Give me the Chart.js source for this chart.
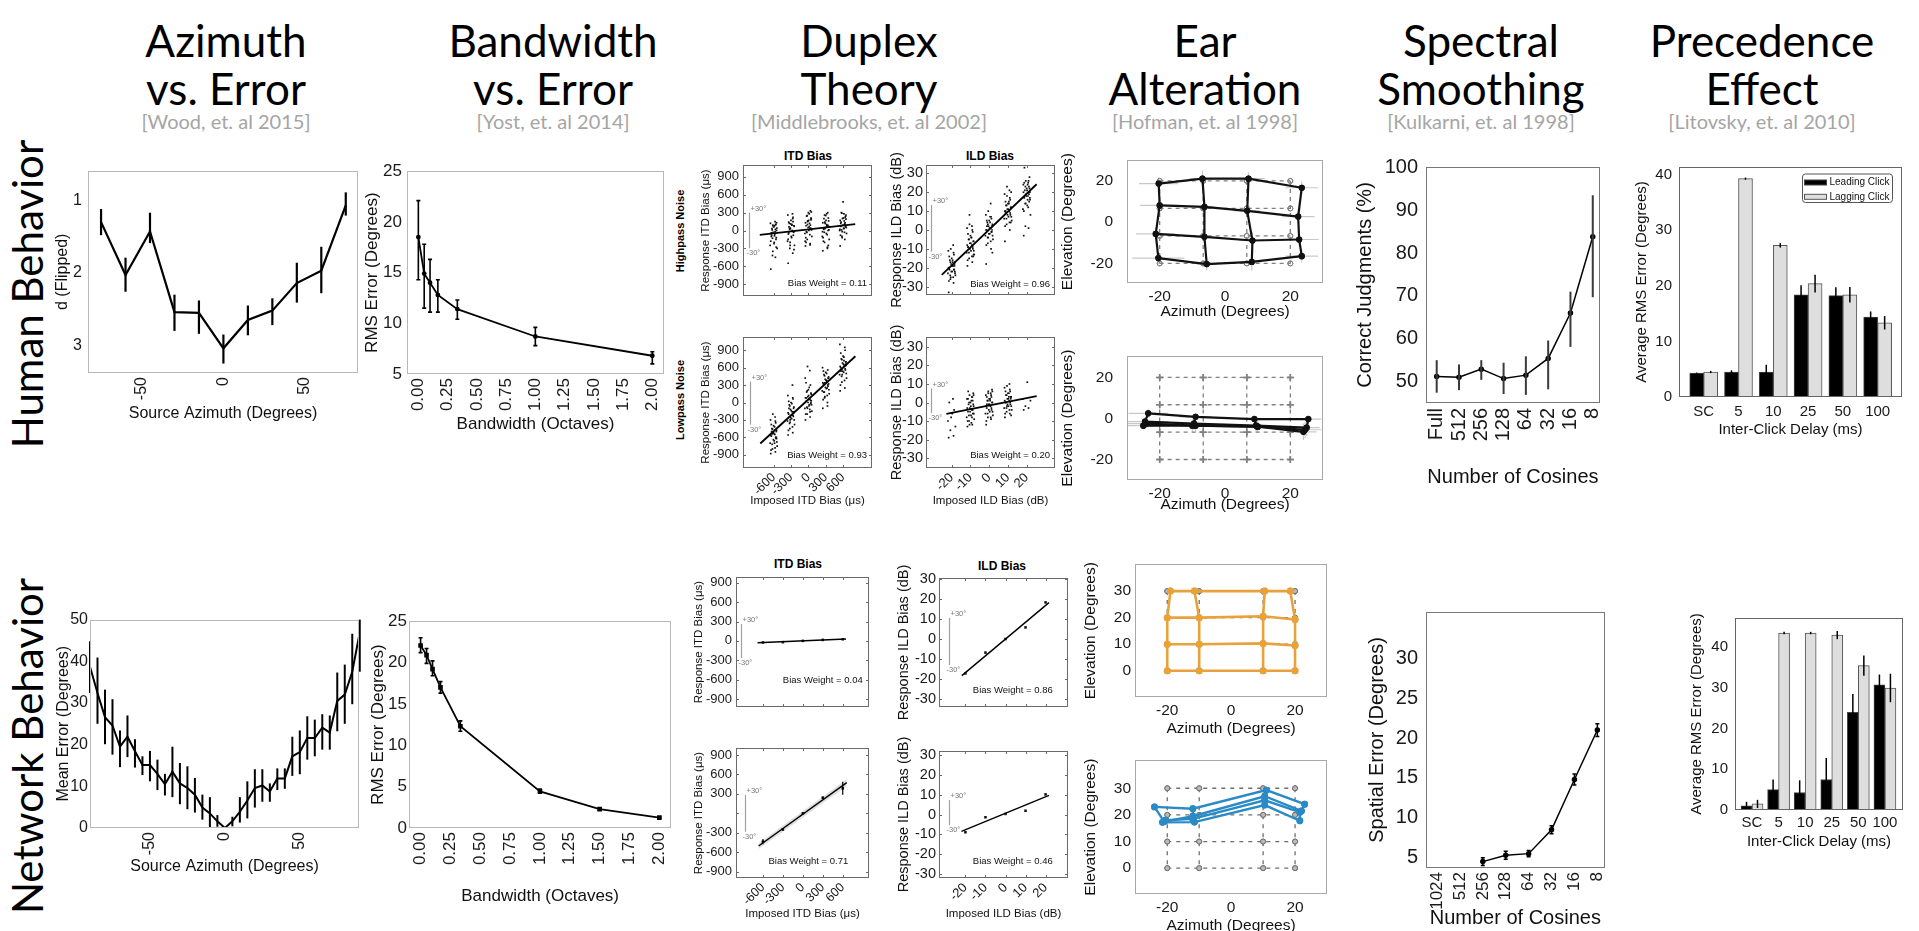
<!DOCTYPE html>
<html><head><meta charset="utf-8">
<script src="https://cdn.jsdelivr.net/npm/chart.js@4.4.1/dist/chart.umd.min.js"></script>
<style>
html,body{margin:0;padding:0;background:#fff;}
body{position:relative;width:1919px;height:931px;overflow:hidden;}
.t{position:absolute;font-family:Lato,"Open Sans",sans-serif;color:#000;text-align:center;white-space:nowrap;}
.h{font-size:44px;line-height:48px;width:400px;}
.c{font-size:20px;line-height:22px;color:#a5a5a5;width:400px;}
.row{font-size:42px;line-height:46px;width:400px;height:46px;transform:rotate(-90deg);transform-origin:center;}
.s{position:absolute;font-family:"Liberation Sans",Arial,sans-serif;font-weight:bold;white-space:nowrap;text-align:center;color:#000;width:120px;}
.sr{transform:rotate(-90deg);transform-origin:center;}
canvas{position:absolute;}
</style></head><body>
<div class="t row" style="left:-173px;top:271px;">Human Behavior</div>
<div class="t row" style="left:-173px;top:723px;">Network Behavior</div>

<div class="t h" style="left:26px;top:16px;">Azimuth<br>vs. Error</div>
<div class="t c" style="left:26px;top:110px;">[Wood, et. al 2015]</div>
<div class="t h" style="left:353px;top:16px;">Bandwidth<br>vs. Error</div>
<div class="t c" style="left:353px;top:110px;">[Yost, et. al 2014]</div>
<div class="t h" style="left:669px;top:16px;">Duplex<br>Theory</div>
<div class="t c" style="left:669px;top:110px;">[Middlebrooks, et. al 2002]</div>
<div class="t h" style="left:1005px;top:16px;">Ear<br>Alteration</div>
<div class="t c" style="left:1005px;top:110px;">[Hofman, et. al 1998]</div>
<div class="t h" style="left:1281px;top:16px;">Spectral<br>Smoothing</div>
<div class="t c" style="left:1281px;top:110px;">[Kulkarni, et. al 1998]</div>
<div class="t h" style="left:1562px;top:16px;">Precedence<br>Effect</div>
<div class="t c" style="left:1562px;top:110px;">[Litovsky, et. al 2010]</div>

<div class="s" style="left:748px;top:149px;font-size:12px;">ITD Bias</div>
<div class="s" style="left:930px;top:149px;font-size:12px;">ILD Bias</div>
<div class="s sr" style="left:620px;top:225px;font-size:11px;">Highpass Noise</div>
<div class="s sr" style="left:620px;top:394px;font-size:11px;">Lowpass Noise</div>
<div class="s" style="left:738px;top:557px;font-size:12px;">ITD Bias</div>
<div class="s" style="left:942px;top:559px;font-size:12px;">ILD Bias</div>

<script>
// ---------------- DATA ----------------
// Azimuth vs Error (human)
const H_AZ_X = [-75,-60,-45,-30,-15,0,15,30,45,60,75];
const H_AZ_D = [1.30,2.03,1.43,2.54,2.55,3.04,2.65,2.52,2.14,1.97,1.07];
const H_AZ_LO = [1.12,1.79,1.17,2.30,2.38,2.85,2.45,2.35,1.86,1.64,0.89];
const H_AZ_HI = [1.48,2.26,1.59,2.80,2.84,3.25,2.86,2.72,2.41,2.28,1.21];
const H_AZ_YTICKS = [1,2,3];
const AZ_XTICKS = [-50,0,50];
// Azimuth vs Error (network)
const N_AZ_X = [-90,-85,-80,-75,-70,-65,-60,-55,-50,-45,-40,-35,-30,-25,-20,-15,-10,-5,0,5,10,15,20,25,30,35,40,45,50,55,60,65,70,75,80,85,90];
const N_AZ_Y = [38.7,32.4,26.6,24.6,19.5,21.9,18.4,15.1,15.1,13.0,10.5,13.5,10.7,9.6,8.0,4.9,3.5,1.6,0,1.6,3.9,6.6,9.6,10.2,8.75,11.9,11.9,17.2,18.2,21.6,21.6,24.1,22.9,30.5,32.0,37.5,46.9];
const N_AZ_LO = [32.4,25,20.1,17.6,14.6,17,14.5,12.7,11.2,9.1,7.8,7.4,5.7,4.5,3.7,2,0,0.3,null,0.4,1.3,2.3,4.9,6.3,6.3,9.1,9.4,12.5,12.9,16.4,17.2,18.8,18.8,23.2,25,29.7,37.5];
const N_AZ_HI = [44.8,40.9,33.2,30.9,23.4,27,21.3,17.2,18.5,16.4,13.0,19.5,15.6,14.8,12,8,7.4,3.1,null,2.7,7.4,11.2,14.1,14.1,10.7,14.3,14.3,21.9,23.4,26.8,26,27.3,27,37.3,39.2,46.6,50];
const N_AZ_YTICKS = [0,10,20,30,40,50];
// Bandwidth vs Error
const H_BW_X = [0,0.05,0.1,0.1667,0.3333,1,2];
const H_BW_Y = [18.5,14.9,14.0,12.8,11.4,8.7,6.8];
const H_BW_LO = [14.3,11.5,11.1,11.1,10.4,7.8,6.0];
const H_BW_HI = [22.1,17.8,16.3,14.3,12.3,9.6,7.2];
const N_BW_X = [0,0.05,0.1,0.1667,0.3333,1,1.5,2];
const N_BW_Y = [22.06,20.9,19.2,17.0,12.3,4.43,2.28,1.26];
const N_BW_LO = [21.2,19.9,18.4,16.3,11.7,4.2,2.15,1.15];
const N_BW_HI = [23.0,21.7,20.2,17.7,12.95,4.7,2.4,1.35];
const BW_XTICKS = [0,0.25,0.5,0.75,1,1.25,1.5,1.75,2];
const H_BW_YTICKS = [5,10,15,20,25];
const N_BW_YTICKS = [0,5,10,15,20,25];
// Duplex theory (human) scatter columns
const ITD_COLS = [-600,-300,0,300,600];
const ILD_COLS = [-20,-10,0,10,20];
const JIT_US = [-50,30,-20,60,-60,10,40,-40,20,-10,50,-30,0,35,-55,25,-15,45,-35,15,-45,25,-25,55,-5,35,-50,5,45,-20,15,-40,30,-15,50];
const JIT_DB = [-1.6,1,-0.7,2,-2,0.3,1.3,-1.3,0.7,-0.3,1.7,-1,0,1.2,-1.8,0.8,-0.5,1.5,-1.2,0.5,-1.5,0.8,-0.8,1.8,-0.2,1.2,-1.7,0.2,1.5,-0.7,0.5,-1.3,1,-0.5,1.7];
const H_ITD_HP = [
 [-650,-450,-420,-300,-250,-200,-150,-100,-60,-30,0,30,60,100,120,150,-350,-120,-80,80,-50,-20,10,40,70,100,-180,-220,-280,-130,-90,-40,20,90,130],
 [-550,-380,-300,-250,-180,-120,-80,-40,0,40,80,120,170,220,260,280,-200,-20,60,100,-60,-10,30,70,110,150,-150,-100,-30,20,90,140,200,-250,-320],
 [-260,-220,-150,-100,-50,0,40,80,120,160,200,240,300,330,-180,20,100,180,-20,60,-120,-70,-30,10,50,90,130,170,210,250,280,-200,-240,150,310],
 [-340,-280,-200,-150,-100,-50,0,40,80,120,160,200,250,300,-20,60,140,-250,20,100,-120,-70,-30,10,50,90,130,170,210,260,280,-180,-300,30,70],
 [-260,-150,-100,-50,0,40,80,120,160,200,260,300,480,220,20,100,-20,60,140,280,-80,-30,10,50,90,130,170,210,240,290,30,70,110,-120,190]];
const H_ILD_HP = [
 [-33,-28,-26,-24,-23,-22,-21,-20,-19,-18,-17,-16,-15,-13,-11,-8,-25,-19,-21,-17,-27,-25,-24,-23,-22,-21,-20,-19,-18,-17,-16,-14,-12,-10,-22],
 [-19,-17,-15,-13,-12,-11,-10,-9,-8,-7,-6,-5,-3,-1,1,2,8,-14,-9,-4,-16,-14,-12,-11,-10,-9,-8,-7,-6,-5,-4,-2,0,3,-13],
 [-18,-10,-7,-5,-3,-2,-1,0,1,2,3,4,5,6,8,14,-4,0,2,7,-8,-6,-4,-3,-2,-1,0,1,2,3,4,5,7,10,-12],
 [-6,0,3,5,6,7,8,9,10,11,12,13,14,16,19,21,23,4,10,15,2,4,6,7,8,9,10,11,12,13,14,15,17,18,20],
 [-3,1,2,8,11,13,15,17,18,19,20,21,22,23,24,25,26,28,33,16,10,12,14,16,18,19,20,21,22,23,24,25,26,14,17]];
const H_ITD_LP = [
 [-880,-850,-800,-750,-700,-660,-620,-580,-550,-520,-480,-450,-400,-350,-300,-250,-200,-600,-500,-700,-820,-780,-720,-680,-640,-600,-560,-530,-500,-460,-420,-380,-320,-540,-620],
 [-560,-520,-450,-380,-320,-280,-240,-200,-160,-120,-80,-40,0,60,120,300,-300,-180,-100,-220,-480,-420,-360,-300,-260,-220,-180,-140,-100,-60,-20,20,80,-340,-160],
 [-300,-250,-200,-150,-100,-60,-20,20,60,100,140,180,220,300,420,550,620,0,80,-40,-200,-120,-80,-40,0,40,80,120,160,200,260,340,-160,-100,30],
 [-100,0,80,150,200,240,280,320,360,400,440,480,520,560,600,250,340,420,180,380,50,120,180,220,260,300,340,380,420,460,500,540,-60,100,320],
 [200,250,350,420,480,520,560,600,640,680,700,750,800,900,1000,620,580,660,540,720,300,380,450,500,540,580,620,660,700,740,780,850,950,480,640]];
const H_ILD_LP = [
 [-19,-18,-15,-13,-10,-6,-4,0,2,-8],
 [-13,-12,-10,-9,-8,-7,-6,-5,-4,-3,-2,-1,0,1,2,3,4,5,6,-11,-10,-8,-7,-6,-5,-4,-3,-2,-1,0,1,2,3,-12,4],
 [-12,-9,-8,-7,-6,-5,-4,-3,-2,-1,0,1,2,3,4,5,6,7,-1,1,-10,-8,-6,-5,-4,-3,-2,-1,0,1,2,3,4,5,6],
 [-8,-6,-5,-4,-3,-2,-1,0,1,2,3,4,5,6,8,10,-2,2,0,3,-6,-4,-3,-2,-1,0,1,2,3,4,5,6,7,9,-7],
 [-4,-3,-2,1,2,11]];
const H_ITD_HP_FIT = [[-840,-73],[810,107]];
const H_ILD_HP_FIT = [[-25.3,-23.8],[25.3,24.2]];
const H_ITD_LP_FIT = [[-831,-706],[813,797]];
const H_ILD_LP_FIT = [[-22.8,-6.2],[25.3,3.4]];
// Duplex theory (network)
const N_ITD_HP = [-25,-20,0,15,25];
const N_ILD_HP = [-17.2,-6.8,0,5.8,18.3];
const N_ITD_LP = [-437,-247,0,242,386];
const N_ITD_LP_ERR = [40,20,10,15,100];
const N_ILD_LP = [-9.0,-1.4,0.3,1.9,10.2];
const N_ITD_HP_FIT = [[-681,-30],[650,30]];
const N_ILD_HP_FIT = [[-21.8,-18.3],[21.7,18.2]];
const N_ITD_LP_FIT = [[-665,-504],[660,473]];
const N_ITD_LP_BAND = [[-665,-460],[660,530]];
const N_ILD_LP_FIT = [[-22,-8.6],[21.7,9.7]];
const ITD_TICKS = [-900,-600,-300,0,300,600,900];
const ILD_TICKS = [-30,-20,-10,0,10,20,30];
// Ear alteration
const H_EAR_T_AZ = [-20,-6.67,6.67,20];
const H_EAR_T_EL = [20,6.67,-6.67,-20];
const H_EAR1_AZ = [[-20.3,-6.9,7.2,23.5],[-20,-6.3,6.8,22.4],[-21.2,-6.3,8.4,22.7],[-20.4,-5.6,8.2,23.5]];
const H_EAR1_EL = [[18.7,21.1,21.1,16.7],[8.1,7.4,5.5,2.7],[-5.7,-7.1,-8.9,-8.4],[-17.4,-20.3,-19.3,-16.5]];
const H_EAR1_AZ_SD = [[6,4,5,5],[6,3,4,5],[6,3,4,6],[8,3,3,5]];
const H_EAR1_EL_SD = [[3,4,3,3],[3,3,3,3],[3,3,4,3],[3,3,4,3]];
const H_EAR2_AZ = [[-23.5,-9,9,25.5],[-24.5,-9.5,9.5,25],[-24,-9,10,24.5],[-25,-10,10,24]];
const H_EAR2_EL = [[2.5,0.8,-0.3,-0.3],[-1.5,-2.5,-3.5,-4.5],[-2.5,-3.5,-4,-5.5],[-3.5,-3.5,-4,-6.5]];
const H_EAR2_AZ_SD = [[6,5,5,4],[7,5,5,4],[7,6,6,5],[8,6,5,4]];
const H_EAR2_EL_SD = [[2,2,2,2],[2,3,3,4],[2,3,3,4],[2,3,3,4]];
const N_EAR_T_AZ = [-20,-10,10,20];
const N_EAR_T_EL = [30,20,10,0];
const N_EAR1_AZ = [[-19,-11.5,10.5,18.5],[-20,-10,10,20],[-20,-10,10,20],[-20,-10,10,20]];
const N_EAR1_EL = [[30,30,30,30],[20,20,20.5,19.3],[10,10,10.3,9.5],[0,0,0,0]];
const N_EAR2_AZ = [[-24,-12,11,23],[-21,-12,10.5,22],[-20.5,-12,10.5,21.5],[-21.5,-11.5,10.5,21.5]];
const N_EAR2_EL = [[23,22.3,29.3,24],[17.5,19.5,27,21.5],[18,18.5,25.5,21],[17.2,17.3,23.7,17.8]];
const EAR_XTICKS = [-20,0,20];
const H_EAR_YTICKS = [-20,0,20];
const N_EAR_YTICKS = [0,10,20,30];
// Spectral smoothing
const H_SS_LABELS = ['Full','512','256','128','64','32','16','8'];
const H_SS_Y = [51.2,51.0,52.9,50.7,51.5,55.4,66.0,83.8];
const H_SS_LO = [47.4,48.0,50.4,47.1,46.9,48.2,58.1,69.7];
const H_SS_HI = [55.0,54.0,55.0,54.4,55.9,59.6,71.0,93.5];
const N_SS_LABELS = ['1024','512','256','128','64','32','16','8'];
const N_SS_Y = [null,null,4.5,5.3,5.5,8.5,14.8,21.0];
const N_SS_LO = [null,null,4.0,4.8,5.1,8.0,14.1,20.2];
const N_SS_HI = [null,null,5.0,5.8,5.9,9.0,15.5,21.8];
const SS_XTICKS = [0,1,2,3,4,5,6,7];
const H_SS_YTICKS = [50,60,70,80,90,100];
const N_SS_YTICKS = [5,10,15,20,25,30];
// Precedence effect
const PE_CATS = ['SC','5','10','25','50','100'];
const PE_XTICKS = [0,1,2,3,4,5];
const H_PE_LEAD = [4.3,4.5,4.5,18.4,18.25,14.4];
const H_PE_LEAD_ERR = [0.1,0.3,1.3,1.7,1.5,1.0];
const H_PE_LAG = [4.5,39.3,27.3,20.4,18.4,13.35];
const H_PE_LAG_ERR = [0.2,0.2,0.4,1.6,1.4,1.2];
const N_PE_LEAD = [1.0,5.0,4.3,7.5,24.0,30.8];
const N_PE_LEAD_ERR = [1.0,2.5,3.0,5.3,4.5,2.5];
const N_PE_LAG = [1.5,43.5,43.5,43.0,35.5,30.0];
const N_PE_LAG_ERR = [1.0,0.3,0.3,1.0,2.5,3.5];
const PE_YTICKS = [0,10,20,30,40];

// ---------------- HELPERS ----------------
const FONT = '"Liberation Sans", Arial, Helvetica, sans-serif';

const decoPlugin = {
  id: 'deco',
  beforeDatasetsDraw(ch, args, o) {
    if (!o.cross) return;
    const ctx = ch.ctx, a = ch.chartArea, xs = ch.scales.x, ys = ch.scales.y, C = o.cross;
    ctx.save();
    ctx.beginPath(); ctx.rect(a.left, a.top, a.width, a.height); ctx.clip();
    ctx.strokeStyle = '#c9c9c9'; ctx.lineWidth = 1.2; ctx.beginPath();
    C.az.forEach((row, r) => row.forEach((x, c) => {
      const y = C.el[r][c], sx = C.sdx[r][c], sy = C.sdy[r][c];
      const px = xs.getPixelForValue(x), py = ys.getPixelForValue(y);
      ctx.moveTo(xs.getPixelForValue(x - sx), py); ctx.lineTo(xs.getPixelForValue(x + sx), py);
      ctx.moveTo(px, ys.getPixelForValue(y - sy)); ctx.lineTo(px, ys.getPixelForValue(y + sy));
    }));
    ctx.stroke(); ctx.restore();
  },
  afterDatasetsDraw(ch, args, o) {
    const ctx = ch.ctx, a = ch.chartArea, xs = ch.scales.x, ys = ch.scales.y;
    ctx.save();
    ch.data.datasets.forEach((ds, di) => {
      if (!ds.errLo) return;
      const meta = ch.getDatasetMeta(di);
      ctx.strokeStyle = ds.errColor || '#000';
      ctx.lineWidth = ds.errWidth || 1.5;
      meta.data.forEach((el, i) => {
        const lo = ds.errLo[i], hi = ds.errHi[i];
        if (lo == null || hi == null) return;
        const x = el.x, y1 = ys.getPixelForValue(lo), y2 = ys.getPixelForValue(hi);
        ctx.beginPath(); ctx.moveTo(x, y1); ctx.lineTo(x, y2);
        const cp = ds.errCap || 0;
        if (cp) { ctx.moveTo(x-cp, y1); ctx.lineTo(x+cp, y1); ctx.moveTo(x-cp, y2); ctx.lineTo(x+cp, y2); }
        ctx.stroke();
      });
    });
    if (o.frame) {
      ctx.strokeStyle = o.frame; ctx.lineWidth = o.frameW || 1;
      ctx.strokeRect(Math.round(a.left)+0.5, Math.round(a.top)+0.5, Math.round(a.width)-1, Math.round(a.height)-1);
    }
    if (o.tickIn) {
      ctx.strokeStyle = o.frame || '#555'; ctx.lineWidth = 1;
      const L = o.tickIn;
      ctx.beginPath();
      xs.ticks.forEach(t => { const p = Math.round(xs.getPixelForValue(t.value))+0.5;
        ctx.moveTo(p, a.bottom); ctx.lineTo(p, a.bottom-L); ctx.moveTo(p, a.top); ctx.lineTo(p, a.top+L); });
      ys.ticks.forEach(t => { const p = Math.round(ys.getPixelForValue(t.value))+0.5;
        ctx.moveTo(a.left, p); ctx.lineTo(a.left+L, p); ctx.moveTo(a.right, p); ctx.lineTo(a.right-L, p); });
      ctx.stroke();
    }
    if (o.sbar) {
      const px = Math.round(xs.getPixelForValue(o.sbar.x))+0.5;
      const p1 = ys.getPixelForValue(o.sbar.y1), p2 = ys.getPixelForValue(o.sbar.y2);
      ctx.strokeStyle = '#a0a0a0'; ctx.lineWidth = 1.2;
      ctx.beginPath(); ctx.moveTo(px, p1); ctx.lineTo(px, p2); ctx.stroke();
      ctx.fillStyle = '#777'; ctx.font = '7.5px ' + FONT; ctx.textBaseline = 'middle'; ctx.textAlign = 'left';
      ctx.fillText('+30°', px+1, p1-4);
      ctx.fillText('-30°', px-3, p2+5);
    }
    (o.texts || []).forEach(t => {
      ctx.fillStyle = t.color || '#111';
      ctx.font = (t.size || 9.5) + 'px ' + FONT;
      ctx.textAlign = 'right'; ctx.textBaseline = 'middle';
      ctx.fillText(t.text, a.right + t.dx, a.bottom + t.dy);
    });
    if (o.legend) {
      const bx = a.right - 100, by = a.top + 6.5, bw = 90, bh = 28.5;
      ctx.strokeStyle = '#555'; ctx.lineWidth = 1; ctx.fillStyle = '#fff';
      ctx.beginPath();
      if (ctx.roundRect) ctx.roundRect(bx+0.5, by+0.5, bw, bh, 3); else ctx.rect(bx+0.5, by+0.5, bw, bh);
      ctx.fill(); ctx.stroke();
      ch.data.datasets.forEach((ds, i) => {
        const yy = by + 9 + i * 14.3;
        ctx.fillStyle = ds.backgroundColor; ctx.strokeStyle = ds.borderColor;
        ctx.fillRect(bx + 2.5, yy - 2.5, 22, 5); ctx.strokeRect(bx + 2.5, yy - 2.5, 22, 5);
        ctx.fillStyle = '#111'; ctx.font = '10px ' + FONT; ctx.textAlign = 'left'; ctx.textBaseline = 'middle';
        ctx.fillText(ds.label, bx + 27.5, yy);
      });
    }
    ctx.restore();
  }
};

function axis(o) {
  return {
    type: 'linear', min: o.min, max: o.max, reverse: !!o.reverse, offset: false,
    grid: { display: false, drawTicks: false }, border: { display: false },
    afterBuildTicks: s => { s.ticks = o.ticks.map(v => ({ value: v })); },
    afterFit: s => { if (o.w != null) s.width = o.w; if (o.h != null) s.height = o.h; },
    ticks: { display: o.showLabels !== false, autoSkip: false, padding: o.pad == null ? 4 : o.pad,
      color: o.tc || '#1a1a1a', font: { family: FONT, size: o.size || 12 },
      minRotation: o.rot || 0, maxRotation: o.rot || 0,
      callback: o.fmt || (v => String(v)) },
    title: o.title ? { display: true, text: o.title, padding: 0, color: '#111',
      font: { family: FONT, size: o.titleSize || o.size } } : { display: false }
  };
}

function chart(box, P, datasets, xo, yo, deco, type) {
  const c = document.createElement('canvas');
  const w = Math.round(box.r - box.l + P.l + P.r), h = Math.round(box.b - box.t + P.t + P.b);
  c.width = w; c.height = h;
  c.style.left = (box.l - P.l) + 'px'; c.style.top = (box.t - P.t) + 'px';
  c.style.width = w + 'px'; c.style.height = h + 'px';
  document.body.appendChild(c);
  xo.h = P.b; yo.w = P.l;
  return new Chart(c, {
    type: type || 'scatter',
    data: { datasets },
    options: {
      responsive: false, animation: false, devicePixelRatio: 1, events: [],
      layout: { padding: { top: P.t, right: P.r, left: 0, bottom: 0 }, autoPadding: false },
      plugins: { legend: { display: false }, tooltip: { enabled: false }, deco: deco || {} },
      scales: { x: axis(xo), y: axis(yo) }
    },
    plugins: [decoPlugin]
  });
}

const pts = (X, Y) => X.map((x, i) => ({ x, y: Y[i] }));
const pairPts = P => P.map(p => ({ x: p[0], y: p[1] }));
function lineSet(X, Y, extra) {
  return Object.assign({ data: pts(X, Y), showLine: true, tension: 0, borderColor: '#000', borderWidth: 2,
    pointRadius: 0, backgroundColor: '#000', pointBackgroundColor: '#000', pointBorderColor: '#000' }, extra || {});
}
function cloud(cols, vals, jit) {
  const d = [];
  vals.forEach((col, c) => col.forEach((v, i) => d.push({ x: cols[c] + jit[i % jit.length], y: v })));
  return { data: d, pointRadius: 1.2, pointStyle: 'rect', pointBackgroundColor: '#111', pointBorderWidth: 0, showLine: false };
}
function fitSet(F, w) {
  return { data: pairPts(F), showLine: true, borderColor: '#000', borderWidth: w || 1.8, pointRadius: 0, tension: 0 };
}
function gridSets(AZ, EL, style) {
  const sets = [];
  for (let r = 0; r < AZ.length; r++) sets.push(Object.assign({ data: AZ[r].map((x, j) => ({ x, y: EL[r][j] })) }, style));
  for (let c = 0; c < AZ[0].length; c++) sets.push(Object.assign({ data: AZ.map((row, r) => ({ x: row[c], y: EL[r][c] })) }, style));
  return sets;
}
function targetMatrix(TAZ, TEL) {
  return [TEL.map(() => TAZ.slice()), TEL.map(e => TAZ.map(() => e))];
}

// ---------------- HUMAN ROW ----------------
chart({ l: 88, t: 161, r: 358, b: 373 }, { l: 35, b: 50, t: 6, r: 6 },
  [lineSet(H_AZ_X, H_AZ_D, { borderWidth: 2.2, errLo: H_AZ_LO, errHi: H_AZ_HI, errWidth: 2.2 })],
  { min: -83, max: 82.5, ticks: AZ_XTICKS, size: 16, pad: 4, rot: 90, title: 'Source Azimuth (Degrees)', titleSize: 16 },
  { min: 0.59, max: 3.38, reverse: true, ticks: H_AZ_YTICKS, size: 16, pad: 6, title: 'd (Flipped)', titleSize: 16 },
  { frame: '#b8b8b8' });
chart({ l: 407, t: 162, r: 671, b: 374 }, { l: 45, b: 61, t: 6, r: 6 },
  [lineSet(H_BW_X, H_BW_Y, { borderWidth: 1.8, pointRadius: 1.5, errLo: H_BW_LO, errHi: H_BW_HI, errWidth: 1.6, errCap: 2 })],
  { min: -0.097, max: 2.1, ticks: BW_XTICKS, fmt: v => Number(v).toFixed(2), size: 17, pad: 4, rot: 90, title: 'Bandwidth (Octaves)', titleSize: 17 },
  { min: 5, max: 25, ticks: H_BW_YTICKS, size: 17, pad: 5, title: 'RMS Error (Degrees)', titleSize: 17 },
  { frame: '#b8b8b8' });
const dupFrame = '#6a6a6a';
chart({ l: 743, t: 165, r: 872, b: 296 }, { l: 44, b: 14, t: 14, r: 4 },
  [fitSet(H_ITD_HP_FIT), cloud(ITD_COLS, H_ITD_HP, JIT_US)],
  { min: -1130, max: 1100, ticks: ITD_COLS, showLabels: false },
  { min: -1100, max: 1100, ticks: ITD_TICKS, size: 13, pad: 4, title: 'Response ITD Bias (μs)', titleSize: 11.5 },
  { frame: dupFrame, tickIn: 3, sbar: { x: -1021, y1: 300, y2: -300 }, texts: [{ text: 'Bias Weight = 0.11', dx: -5, dy: -12.7 }] });
chart({ l: 926, t: 165, r: 1055, b: 295 }, { l: 38, b: 22, t: 22, r: 4 },
  [fitSet(H_ILD_HP_FIT), cloud(ILD_COLS, H_ILD_HP, JIT_DB)],
  { min: -33.7, max: 35.1, ticks: ILD_COLS, showLabels: false },
  { min: -34.4, max: 34.4, ticks: ILD_TICKS, size: 14.5, pad: 3, title: 'Response ILD Bias (dB)', titleSize: 14.5 },
  { frame: dupFrame, tickIn: 3, sbar: { x: -31, y1: 13.2, y2: -11.5 }, texts: [{ text: 'Bias Weight = 0.96', dx: -5, dy: -11 }] });
chart({ l: 743, t: 337, r: 872, b: 468 }, { l: 44, b: 40, t: 14, r: 4 },
  [fitSet(H_ITD_LP_FIT), cloud(ITD_COLS, H_ITD_LP, JIT_US)],
  { min: -1130, max: 1100, ticks: ITD_COLS, size: 12.5, pad: 2, rot: 45, title: 'Imposed ITD Bias (μs)', titleSize: 11.5 },
  { min: -1128, max: 1128, ticks: ITD_TICKS, size: 13, pad: 4, title: 'Response ITD Bias (μs)', titleSize: 11.5 },
  { frame: dupFrame, tickIn: 3, sbar: { x: -1008, y1: 360, y2: -382 }, texts: [{ text: 'Bias Weight = 0.93', dx: -5, dy: -13 }] });
chart({ l: 926, t: 337, r: 1055, b: 468 }, { l: 38, b: 40, t: 22, r: 4 },
  [fitSet(H_ILD_LP_FIT), cloud(ILD_COLS, H_ILD_LP, JIT_DB)],
  { min: -33.7, max: 35.1, ticks: ILD_COLS, size: 13, pad: 2, rot: 45, title: 'Imposed ILD Bias (dB)', titleSize: 11.5 },
  { min: -35.4, max: 35.4, ticks: ILD_TICKS, size: 14.5, pad: 3, title: 'Response ILD Bias (dB)', titleSize: 14.5 },
  { frame: dupFrame, tickIn: 3, sbar: { x: -31, y1: 7.6, y2: -5.7 }, texts: [{ text: 'Bias Weight = 0.20', dx: -5, dy: -13 }] });
const tgtStyleO = { showLine: true, borderColor: '#808080', borderWidth: 1.3, borderDash: [4, 4], pointRadius: 2.5,
  pointStyle: 'circle', pointBackgroundColor: 'rgba(0,0,0,0)', pointBorderColor: '#808080', pointBorderWidth: 1 };
const tgtStyleX = Object.assign({}, tgtStyleO, { pointStyle: 'cross', pointRadius: 3.5, pointBorderWidth: 1.5 });
const respBlack = { showLine: true, borderColor: '#111', borderWidth: 2.2, pointRadius: 2, pointBackgroundColor: '#111', pointBorderColor: '#111' };
const HT = targetMatrix(H_EAR_T_AZ, H_EAR_T_EL);
chart({ l: 1127, t: 143, r: 1323, b: 283 }, { l: 69, b: 38, t: 6, r: 6 },
  gridSets(H_EAR1_AZ, H_EAR1_EL, respBlack).concat(gridSets(HT[0], HT[1], tgtStyleO)),
  { min: -30, max: 30, ticks: EAR_XTICKS, size: 15.5, pad: 4, title: 'Azimuth (Degrees)', titleSize: 15.5 },
  { min: -29.5, max: 30, ticks: H_EAR_YTICKS, size: 15.5, pad: 14, title: 'Elevation (Degrees)', titleSize: 15.5 },
  { frame: '#a8a8a8', cross: { az: H_EAR1_AZ, el: H_EAR1_EL, sdx: H_EAR1_AZ_SD, sdy: H_EAR1_EL_SD } });
chart({ l: 1127, t: 339, r: 1323, b: 480 }, { l: 69, b: 34, t: 6, r: 6 },
  gridSets(H_EAR2_AZ, H_EAR2_EL, respBlack).concat(gridSets(HT[0], HT[1], tgtStyleX)),
  { min: -30, max: 30, ticks: EAR_XTICKS, size: 15.5, pad: 4, title: 'Azimuth (Degrees)', titleSize: 15.5 },
  { min: -30, max: 30.3, ticks: H_EAR_YTICKS, size: 15.5, pad: 14, title: 'Elevation (Degrees)', titleSize: 15.5 },
  { frame: '#a8a8a8', cross: { az: H_EAR2_AZ, el: H_EAR2_EL, sdx: H_EAR2_AZ_SD, sdy: H_EAR2_EL_SD } });
chart({ l: 1426, t: 153, r: 1616, b: 403 }, { l: 73, b: 86, t: 6, r: 6 },
  [lineSet(SS_XTICKS, H_SS_Y, { borderWidth: 1.5, pointRadius: 2, errLo: H_SS_LO, errHi: H_SS_HI, errWidth: 2, errColor: '#3a3a3a' })],
  { min: -0.48, max: 7.32, ticks: SS_XTICKS, fmt: v => H_SS_LABELS[v], size: 20, pad: 5, rot: 90, title: 'Number of Cosines', titleSize: 20 },
  { min: 45, max: 100.1, ticks: H_SS_YTICKS, size: 20, pad: 8, title: 'Correct Judgments (%)', titleSize: 20 },
  { frame: '#777' });
function peSets(lead, leadErr, lag, lagErr, th) {
  return [
    { label: 'Leading Click', data: pts(PE_XTICKS, lead), backgroundColor: '#000', borderColor: '#444', borderWidth: 1, barThickness: th,
      errLo: lead.map((v, i) => v - leadErr[i]), errHi: lead.map((v, i) => v + leadErr[i]), errWidth: 1.5, errColor: '#000' },
    { label: 'Lagging Click', data: pts(PE_XTICKS, lag), backgroundColor: '#dedede', borderColor: '#555', borderWidth: 1, barThickness: th,
      errLo: lag.map((v, i) => v - lagErr[i]), errHi: lag.map((v, i) => v + lagErr[i]), errWidth: 1.5, errColor: '#000' }
  ];
}
chart({ l: 1679, t: 157, r: 1902, b: 397 }, { l: 46, b: 42, t: 6, r: 6 },
  peSets(H_PE_LEAD, H_PE_LEAD_ERR, H_PE_LAG, H_PE_LAG_ERR, 14),
  { min: -0.71, max: 5.70, ticks: PE_XTICKS, fmt: v => PE_CATS[v], size: 15, pad: 6, title: 'Inter-Click Delay (ms)', titleSize: 15 },
  { min: 0, max: 41.4, ticks: PE_YTICKS, size: 15, pad: 7, title: 'Average RMS Error (Degrees)', titleSize: 15 },
  { frame: '#666', legend: true }, 'bar');

// ---------------- NETWORK ROW ----------------
chart({ l: 90, t: 614, r: 359, b: 828 }, { l: 36, b: 48, t: 6, r: 6 },
  [lineSet(N_AZ_X, N_AZ_Y, { borderWidth: 2, errLo: N_AZ_LO, errHi: N_AZ_HI, errWidth: 2 })],
  { min: -90, max: 89.5, ticks: AZ_XTICKS, size: 16, pad: 4, rot: 90, title: 'Source Azimuth (Degrees)', titleSize: 16 },
  { min: 0, max: 50, ticks: N_AZ_YTICKS, size: 16, pad: 2, title: 'Mean Error (Degrees)', titleSize: 16 },
  { frame: '#b8b8b8' });
chart({ l: 409, t: 615, r: 678, b: 828 }, { l: 41, b: 79, t: 6, r: 6 },
  [lineSet(N_BW_X, N_BW_Y, { borderWidth: 1.8, pointRadius: 2, pointStyle: 'rect', errLo: N_BW_LO, errHi: N_BW_HI, errWidth: 1.6, errCap: 2 })],
  { min: -0.097, max: 2.1, ticks: BW_XTICKS, fmt: v => Number(v).toFixed(2), size: 17, pad: 4, rot: 90, title: 'Bandwidth (Octaves)', titleSize: 17 },
  { min: 0, max: 25, ticks: N_BW_YTICKS, size: 17, pad: 2, title: 'RMS Error (Degrees)', titleSize: 17 },
  { frame: '#b8b8b8' });
function netPts(cols, Y, err) {
  return { data: pts(cols, Y), showLine: false, pointRadius: 1.8, pointStyle: 'rect', pointBackgroundColor: '#111', pointBorderWidth: 0,
    errLo: err ? Y.map((v, i) => v - err[i]) : null, errHi: err ? Y.map((v, i) => v + err[i]) : null, errWidth: 1.2 };
}
chart({ l: 736, t: 577, r: 869, b: 707 }, { l: 44, b: 14, t: 14, r: 4 },
  [fitSet(N_ITD_HP_FIT, 1.4), netPts(ITD_COLS, N_ITD_HP)],
  { min: -1005, max: 995, ticks: ITD_COLS, showLabels: false },
  { min: -1025, max: 990, ticks: ITD_TICKS, size: 13, pad: 4, title: 'Response ITD Bias (μs)', titleSize: 11.5 },
  { frame: dupFrame, tickIn: 3, sbar: { x: -925, y1: 260, y2: -265 }, texts: [{ text: 'Bias Weight = 0.04', dx: -6.3, dy: -27 }] });
chart({ l: 939, t: 578, r: 1068, b: 707 }, { l: 44, b: 22, t: 22, r: 4 },
  [fitSet(N_ILD_HP_FIT, 1.4), netPts(ILD_COLS, N_ILD_HP)],
  { min: -33.2, max: 31.2, ticks: ILD_COLS, showLabels: false },
  { min: -34, max: 30.5, ticks: ILD_TICKS, size: 14.5, pad: 3, title: 'Response ILD Bias (dB)', titleSize: 14.5 },
  { frame: dupFrame, tickIn: 3, sbar: { x: -28.4, y1: 10.5, y2: -13 }, texts: [{ text: 'Bias Weight = 0.86', dx: -15.3, dy: -17 }] });
chart({ l: 736, t: 748, r: 869, b: 878 }, { l: 44, b: 43, t: 14, r: 4 },
  [fitSet(N_ITD_LP_FIT, 1.4), netPts(ITD_COLS, N_ITD_LP, N_ITD_LP_ERR),
   { data: pairPts(N_ITD_LP_BAND), showLine: true, borderWidth: 0, pointRadius: 0, borderColor: 'rgba(0,0,0,0)' },
   { data: [{ x: N_ITD_LP_FIT[0][0], y: N_ITD_LP_FIT[0][1] - 45 }, { x: N_ITD_LP_FIT[1][0], y: N_ITD_LP_FIT[1][1] - 55 }], showLine: true, borderWidth: 0,
     pointRadius: 0, borderColor: 'rgba(0,0,0,0)', fill: '-1', backgroundColor: 'rgba(0,0,0,0.12)' }],
  { min: -1005, max: 995, ticks: ITD_COLS, size: 12.5, pad: 2, rot: 45, title: 'Imposed ITD Bias (μs)', titleSize: 11.5 },
  { min: -997, max: 1008, ticks: ITD_TICKS, fmt: v => (v === 0 ? '' : String(v)), size: 13, pad: 4, title: 'Response ITD Bias (μs)', titleSize: 11.5 },
  { frame: dupFrame, tickIn: 3, sbar: { x: -866, y1: 282, y2: -284 }, texts: [{ text: 'Bias Weight = 0.71', dx: -20.7, dy: -16.3 }] });
chart({ l: 939, t: 751, r: 1068, b: 878 }, { l: 44, b: 43, t: 22, r: 4 },
  [fitSet(N_ILD_LP_FIT, 1.4), netPts(ILD_COLS, N_ILD_LP)],
  { min: -33.2, max: 31.2, ticks: ILD_COLS, size: 13, pad: 2, rot: 45, title: 'Imposed ILD Bias (dB)', titleSize: 11.5 },
  { min: -32.2, max: 32.2, ticks: ILD_TICKS, size: 14.5, pad: 3, title: 'Response ILD Bias (dB)', titleSize: 14.5 },
  { frame: dupFrame, tickIn: 3, sbar: { x: -28.4, y1: 7.3, y2: -5.4 }, texts: [{ text: 'Bias Weight = 0.46', dx: -15.3, dy: -16.3 }] });
const NT = targetMatrix(N_EAR_T_AZ, N_EAR_T_EL);
const tgtNet = Object.assign({}, tgtStyleO, { borderColor: '#6e6e6e', pointBorderColor: '#6e6e6e', pointBackgroundColor: '#bbb', borderDash: [4, 5] });
const respOrange = { showLine: true, borderColor: '#e9a23b', borderWidth: 2.6, pointRadius: 2.2, pointBackgroundColor: '#e9a23b', pointBorderColor: '#e9a23b' };
const respBlue = { showLine: true, borderColor: '#2a8ac6', borderWidth: 2.4, pointRadius: 2.2, pointBackgroundColor: '#2a8ac6', pointBorderColor: '#2a8ac6' };
chart({ l: 1135, t: 557, r: 1327, b: 697 }, { l: 54, b: 41, t: 6, r: 6 },
  gridSets(N_EAR1_AZ, N_EAR1_EL, respOrange).concat(gridSets(NT[0], NT[1], tgtNet)),
  { min: -30.1, max: 30, ticks: EAR_XTICKS, size: 15.5, pad: 4, title: 'Azimuth (Degrees)', titleSize: 15.5 },
  { min: -9.9, max: 40.1, ticks: N_EAR_YTICKS, size: 15.5, pad: 4, title: 'Elevation (Degrees)', titleSize: 15.5 },
  { frame: '#a8a8a8' });
chart({ l: 1135, t: 753, r: 1327, b: 894 }, { l: 54, b: 41, t: 6, r: 6 },
  gridSets(N_EAR2_AZ, N_EAR2_EL, respBlue).concat(gridSets(NT[0], NT[1], tgtNet)),
  { min: -30.1, max: 30, ticks: EAR_XTICKS, size: 15.5, pad: 4, title: 'Azimuth (Degrees)', titleSize: 15.5 },
  { min: -9.7, max: 40.5, ticks: N_EAR_YTICKS, size: 15.5, pad: 4, title: 'Elevation (Degrees)', titleSize: 15.5 },
  { frame: '#a8a8a8' });
chart({ l: 1426, t: 598, r: 1616, b: 868 }, { l: 61, b: 62, t: 6, r: 6 },
  [lineSet(SS_XTICKS, N_SS_Y, { borderWidth: 1.5, pointRadius: 2, errLo: N_SS_LO, errHi: N_SS_HI, errWidth: 1.5, errCap: 2, spanGaps: false })],
  { min: -0.48, max: 7.32, ticks: SS_XTICKS, fmt: v => N_SS_LABELS[v], size: 17, pad: 4, rot: 90, title: 'Number of Cosines', titleSize: 20 },
  { min: 3.7, max: 35.8, ticks: N_SS_YTICKS, size: 20, pad: 8, title: 'Spatial Error (Degrees)', titleSize: 20 },
  { frame: '#777' });
chart({ l: 1735, t: 608, r: 1903, b: 810 }, { l: 47, b: 41, t: 6, r: 6 },
  peSets(N_PE_LEAD, N_PE_LEAD_ERR, N_PE_LAG, N_PE_LAG_ERR, 11),
  { min: -0.64, max: 5.68, ticks: PE_XTICKS, fmt: v => PE_CATS[v], size: 15, pad: 4, title: 'Inter-Click Delay (ms)', titleSize: 15 },
  { min: 0, max: 47.2, ticks: PE_YTICKS, size: 15, pad: 7, title: 'Average RMS Error (Degrees)', titleSize: 15 },
  { frame: '#666' }, 'bar');
</script>
</body></html>
